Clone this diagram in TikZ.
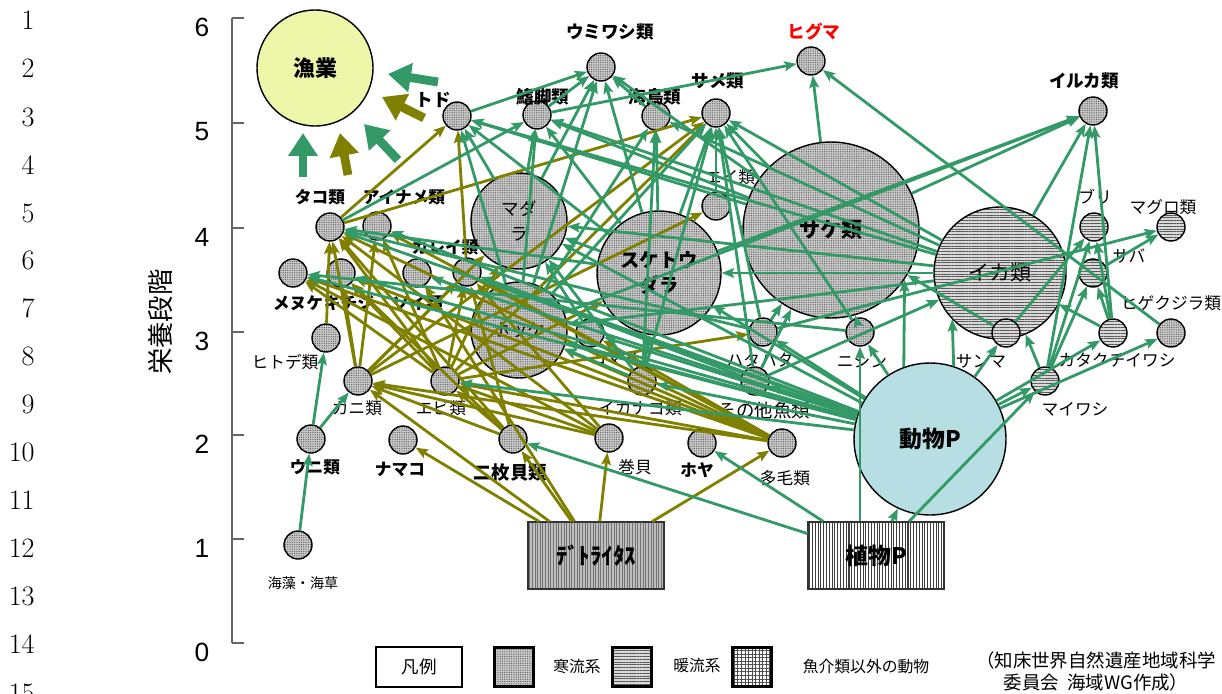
\documentclass[tikz,border=0pt]{standalone}
\usepackage{fontspec}
\newfontfamily\jp{Noto Sans CJK JP}
\newfontfamily\ar{Liberation Sans}
\usetikzlibrary{arrows.meta,patterns.meta}
\definecolor{eg}{RGB}{51,153,102}
\definecolor{ol}{RGB}{128,128,0}
\definecolor{fishery}{RGB}{238,246,170}
\definecolor{zoo}{RGB}{183,223,227}
\definecolor{hred}{RGB}{255,0,0}
\tikzset{
 jpl/.style={font=\jp\fontsize{9.5}{11}\selectfont, inner sep=0pt},
 jpb/.style={font=\jp\bfseries\fontsize{9.5}{11}\selectfont, inner sep=0pt},
 cnode/.style={circle, draw=black, line width=0.8pt, inner sep=0pt, minimum size=0.56cm,
   preaction={fill=black!22}, pattern={Dots[distance=1.3pt,radius=0.35pt]}, pattern color=black!65},
 wnode/.style={circle, draw=black, line width=0.8pt, inner sep=0pt, minimum size=0.56cm,
   preaction={fill=black!15}, pattern={Lines[angle=0,distance=1.6pt,line width=0.55pt]}, pattern color=black!65},
 ge/.style={draw=eg, line width=1.6pt, -{Stealth[length=7pt,width=5.5pt,inset=1.3pt]}},
 oe/.style={draw=ol, line width=1.6pt, -{Stealth[length=7pt,width=5.5pt,inset=1.3pt]}},
 bigarrow/.style={line width=5pt, -{Triangle[length=13pt,width=16pt]}},
 lnum/.style={font=\fontsize{16}{16}\selectfont, anchor=east, inner sep=0pt},
 tick/.style={font=\ar\fontsize{15}{15}\selectfont, inner sep=0pt},
 legsq/.style={draw=black, line width=1.2pt, minimum size=0.78cm, inner sep=0pt},
}
\begin{document}
\begin{tikzpicture}[x=0.02cm,y=-0.02cm]
\useasboundingbox (0,0) rectangle (1222,693);
% line numbers
\foreach \n/\yy in {1/20,2/68,3/117,4/165,5/213,6/260,7/308,8/356,9/404,10/452,11/500,12/548,13/596,14/644,15/693}
  \node[lnum] (ln\n) at (35,\yy) {\n};
% axis
\coordinate (ax6) at (232,18);
\coordinate (ax0) at (232,643);
\draw[black!60, line width=1pt] (ax6) -- (ax0);
\foreach \v/\yy in {6/18,5/123,4/228,3/332,2/435,1/539,0/643}{
  \coordinate (tk\v) at (232,\yy);
  \coordinate (tke\v) at (244,\yy);
  \draw[black!60, line width=1pt] (tk\v) -- (tke\v);
  \node[tick] (tl\v) at (202,\yy+9) {\v};
}
\node[font=\jp\fontsize{15}{15}\selectfont, rotate=90, inner sep=0pt] (ylab) at (160,322) {栄養段階};

% big nodes
\node[circle, draw=black, line width=0.8pt, fill=fishery, minimum size=2.32cm, inner sep=0pt,
  font=\jp\bfseries\fontsize{12.5}{14}\selectfont] (gy) at (315,68) {漁業};
\node[cnode, minimum size=0.56cm] (kare) at (467,272) {};
\node[cnode, minimum size=0.56cm] (komai) at (590,333) {};
\node[cnode, minimum size=1.92cm, font=\jp\fontsize{10}{14}\selectfont, align=center] (mada) at (519,221) {マダ\\ラ};
\node[cnode, minimum size=1.92cm, font=\jp\fontsize{10}{12}\selectfont] (hokke) at (519,330) {ホッケ};
\node[cnode, minimum size=2.48cm, font=\jp\bfseries\fontsize{11}{14}\selectfont, align=center] (suke) at (659,273) {スケトウ\\ダラ};
\node[cnode, minimum size=3.52cm, font=\jp\bfseries\fontsize{12}{14}\selectfont] (sake) at (831,230) {サケ類};
\node[wnode, minimum size=2.64cm, font=\jp\fontsize{12}{14}\selectfont] (ika) at (1000,273) {イカ類};
\node[circle, draw=black, line width=0.8pt, fill=zoo, minimum size=3.04cm, inner sep=0pt,
  font=\jp\bfseries\fontsize{13}{14}\selectfont] (dou) at (930,439) {動物P};
% rectangles
\node[draw=black!80, line width=0.9pt, minimum width=2.72cm, minimum height=1.34cm, inner sep=0pt,
  preaction={fill=black!25}, pattern={Lines[angle=90,distance=1.5pt,line width=0.5pt]}, pattern color=black!55,
  font=\jp\bfseries\fontsize{13}{14}\selectfont] (det) at (596,555.5) {ﾃﾞﾄﾗｲﾀｽ};
\node[draw=black!80, line width=0.9pt, minimum width=2.72cm, minimum height=1.34cm, inner sep=0pt,
  preaction={fill=white}, pattern={Lines[angle=90,distance=1.6pt,line width=0.6pt]}, pattern color=black!75,
  font=\jp\bfseries\fontsize{13}{14}\selectfont] (shoku) at (876,555.5) {植物P};

% small cold nodes
\foreach \nm/\px/\py in {todo/457/116, hire/537/115, umi/601/67, kai/656/116, same/716/113, hig/811/61,
  iru/1093/111, tako/330/227, aina/377/226, menu/293/273, kichi/341/273, soi/417/273,
  hito/326/338, kani/358/381, uni/311/439, sou/298/545, nama/403/440, ebi/445/381, nimai/513/439,
  maki/609/438, hoya/702/443, tamo/782/443, ei/716/206, hata/763/332, sono/755/381, ikanago/642/381,
  nishin/860/332, hige/1171/333}
  \node[cnode] (\nm) at (\px,\py) {};
% small warm nodes
\foreach \nm/\px/\py in {sanma/1006/333, maiw/1045/381, kata/1113/333, saba/1093/273, buri/1094/227, magu/1171/227}
  \node[wnode] (\nm) at (\px,\py) {};

% labels
\node[jpb, font=\jp\bfseries\fontsize{10}{11}\selectfont] (l-todo) at (433,100) {トド};
\node[jpb, font=\jp\bfseries\fontsize{10}{11}\selectfont] (l-hire) at (543,97) {鰭脚類};
\node[jpb, font=\jp\bfseries\fontsize{10}{11}\selectfont] (l-umi) at (610,32) {ウミワシ類};
\node[jpb, font=\jp\bfseries\fontsize{10}{11}\selectfont] (l-kai) at (655,97) {海鳥類};
\node[jpb, font=\jp\bfseries\fontsize{10}{11}\selectfont] (l-same) at (718,81) {サメ類};
\node[jpb, font=\jp\bfseries\fontsize{10}{11}\selectfont, text=hred] (l-hig) at (814,32) {ヒグマ};
\node[jpb, font=\jp\bfseries\fontsize{10}{11}\selectfont] (l-iru) at (1084,81) {イルカ類};
\node[jpb] (l-tako) at (320,197) {タコ類};
\node[jpb] (l-aina) at (404,197) {アイナメ類};
\node[jpb] (l-menu) at (298,303) {メヌケ};
\node[jpb] (l-kichi) at (349,303) {キチジ};
\node[jpb] (l-soi) at (418,303) {ソイ類};
\node[jpb] (l-kare) at (445,247) {カレイ類};
\node[jpl] (l-hito) at (285,362) {ヒトデ類};
\node[jpl] (l-kani) at (357,408) {カニ類};
\node[jpb] (l-uni) at (315,467) {ウニ類};
\node[jpl, font=\jp\fontsize{8}{9}\selectfont] (l-sou) at (303,583) {海藻・海草};
\node[jpb] (l-nama) at (400,469) {ナマコ};
\node[jpl] (l-ebi) at (441,408) {エビ類};
\node[jpb, font=\jp\bfseries\fontsize{10.5}{11}\selectfont] (l-nimai) at (510,473) {二枚貝類};
\node[jpl] (l-maki) at (635,467) {巻貝};
\node[jpb] (l-hoya) at (697,470) {ホヤ};
\node[jpl] (l-tamo) at (785,478) {多毛類};
\node[jpl] (l-komai) at (615,358) {コマイ};
\node[jpl] (l-ei) at (730,177) {エイ類};
\node[jpl] (l-hata) at (760,360) {ハタハタ};
\node[jpl, font=\jp\fontsize{10.5}{11}\selectfont] (l-sono) at (764,410) {その他魚類};
\node[jpl] (l-ikanago) at (640,408) {イカナゴ類};
\node[jpl] (l-nishin) at (862,361) {ニシン};
\node[jpl] (l-sanma) at (981,361) {サンマ};
\node[jpl] (l-maiw) at (1075,409) {マイワシ};
\node[jpl] (l-kata) at (1117,360) {カタクチイワシ};
\node[jpl] (l-hige) at (1171,303) {ヒゲクジラ類};
\node[jpl] (l-saba) at (1129,256) {サバ};
\node[jpl] (l-buri) at (1095,197) {ブリ};
\node[jpl] (l-magu) at (1163,207) {マグロ類};

% big arrows to fishery
\coordinate (a1s) at (303,177); \coordinate (a1e) at (303,133);
\coordinate (a2s) at (348,175); \coordinate (a2e) at (340,133);
\coordinate (a3s) at (398,160); \coordinate (a3e) at (364,124);
\coordinate (a4s) at (424,118); \coordinate (a4e) at (382,97);
\coordinate (a5s) at (438,82);  \coordinate (a5e) at (388,74);
\draw[bigarrow, eg] (a1s) -- (a1e);
\draw[bigarrow, ol] (a2s) -- (a2e);
\draw[bigarrow, eg] (a3s) -- (a3e);
\draw[bigarrow, ol] (a4s) -- (a4e);
\draw[bigarrow, eg] (a5s) -- (a5e);

% olive edges
\foreach \a/\b in {det/nama, det/nimai, det/maki, det/tamo, det/kani, det/soi,
  hito/tako, kani/tako, ebi/tako, nimai/tako, maki/tako, tamo/tako,
  nimai/kani, maki/kani, tamo/kani, tamo/ebi, tamo/komai, tamo/kare, tamo/menu, tamo/kichi, tamo/aina, tamo/hokke,
  nimai/kare, maki/kare, nimai/kichi, maki/menu,
  ebi/hata, kani/ei, ebi/same, kani/same, tako/same, ebi/mada, kani/mada, ebi/menu, ebi/kichi, ebi/aina,
  ebi/suke, ebi/kare, kani/aina, kani/kare, kani/kichi, kare/todo, tako/todo, nimai/ebi, maki/ebi}
  \draw[oe] (\a) -- (\b);

% green edges
\foreach \a/\b in {sou/uni, uni/hito, uni/kani,
  shoku/dou, shoku/nimai, shoku/hoya, shoku/maiw,
  dou/menu, dou/kichi, dou/soi, dou/kare, dou/hokke, dou/komai, dou/ikanago, dou/hata, dou/sono, dou/suke,
  dou/nishin, dou/sanma, dou/maiw, dou/kata, dou/hige, dou/mada, dou/ebi, dou/aina, dou/tako,
  hokke/todo, hokke/hire, hokke/umi, hokke/kai, hokke/same, hokke/iru,
  suke/todo, suke/hire, suke/umi, suke/kai, suke/same, suke/mada, suke/iru,
  mada/umi, mada/hire, mada/todo,
  sake/hig, sake/same, sake/umi, sake/hire, sake/todo, sake/iru,
  ika/todo, ika/hire, ika/same, ika/kai, ika/iru, ika/mada, ika/suke, ika/hokke,
  ei/same, kai/umi, todo/umi, hire/umi, hire/hig, hige/hig, tako/hire,
  maiw/iru, kata/iru, maiw/buri, kata/buri, maiw/saba, kata/saba, saba/magu, hata/magu, sanma/buri,
  maiw/ika, kata/ika, sono/sake, sono/ika, hata/sake, nishin/sake, sanma/sake,
  ikanago/mada, ikanago/hokke, ikanago/suke, ikanago/same, ikanago/kai, komai/mada,
  hata/tako, suke/tako, nishin/menu, sono/kare, sono/same, hata/same, nishin/same}
  \draw[ge] (\a) -- (\b);
\draw[ge] (dou.110) -- (sake.-34);
\draw[ge] (dou.72) -- (ika.-136);
\draw[ge] (shoku.north -| nishin.south) -- (nishin.south);

% legend
\node[draw=black, line width=1.5pt, minimum width=1.72cm, minimum height=0.8cm, inner sep=0pt,
  font=\jp\fontsize{10}{11}\selectfont] (leg) at (419,667) {凡例};
\node[legsq, preaction={fill=black!22}, pattern={Dots[distance=1.3pt,radius=0.35pt]}, pattern color=black!65] (sqc) at (514,667) {};
\node[jpl, font=\jp\fontsize{9}{10}\selectfont] (l-sqc) at (577,666) {寒流系};
\node[legsq, preaction={fill=black!15}, pattern={Lines[angle=0,distance=1.6pt,line width=0.55pt]}, pattern color=black!65] (sqw) at (632,667) {};
\node[jpl, font=\jp\fontsize{9}{10}\selectfont] (l-sqw) at (697,666) {暖流系};
\node[legsq, preaction={fill=white}, pattern={Hatch[angle=0,distance=2pt,line width=0.5pt]}, pattern color=black!70] (sqg) at (752,667) {};
\node[jpl, font=\jp\fontsize{9}{10}\selectfont] (l-sqg) at (866,666) {魚介類以外の動物};
\node[jpl, font=\jp\fontsize{10.5}{12}\selectfont] (cit1) at (1096,660) {（知床世界自然遺産地域科学};
\node[jpl, font=\jp\fontsize{10.5}{12}\selectfont] (cit2) at (1096,682) {委員会\ \ 海域WG作成）};
\end{tikzpicture}
\end{document}
